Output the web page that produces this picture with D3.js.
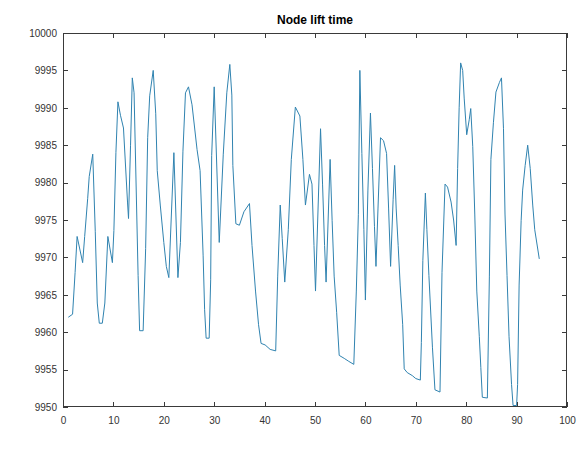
<!DOCTYPE html>
<html>
<head>
<meta charset="utf-8">
<script src="https://cdn.jsdelivr.net/npm/d3@7"></script>
<style>
  html, body { margin: 0; padding: 0; background: #fff; }
  svg { display: block; font-family: "Liberation Sans", Arial, Helvetica, sans-serif; }
</style>
</head>
<body>
<svg id="chart" width="582" height="458"></svg>
<script>
// Node lift time series (x = position along the node sequence, y = lift time)
const xVals = [
  1.05, 1.9, 2.4, 2.8, 3.9, 4.3, 4.9, 5.2, 5.9, 6.4, 6.8, 7.2, 7.8, 8.3, 8.9, 9.8,
  10.1, 10.5, 10.9, 11.4, 12.0, 12.8, 13.0, 13.4, 13.75, 14.1, 14.9, 15.2, 15.9, 16.4,
  16.8, 17.2, 17.9, 18.4, 18.7, 19.3, 20.0, 20.5, 21.0, 22.0, 22.8, 23.3, 23.8, 24.3,
  24.9, 25.6, 26.6, 27.2, 27.8, 28.1, 28.4, 29.0, 29.3, 29.5, 30.0, 31.0, 31.8, 32.5,
  33.1, 33.5, 33.7, 34.3, 35.0, 35.9, 37.0, 37.5, 38.2, 38.8, 39.3, 40.1, 41.1, 42.2,
  42.6, 43.1, 43.5, 44.0, 44.7, 45.3, 46.1, 47.0, 47.6, 48.1, 48.9, 49.4, 49.8, 50.1,
  51.1, 51.5, 51.9, 52.2, 53.0, 53.4, 53.8, 54.3, 54.8, 55.8, 56.7, 57.7, 58.2, 58.6,
  58.9, 59.3, 59.7, 60.0, 60.5, 61.0, 61.4, 61.8, 62.1, 62.5, 63.0, 63.6, 64.2, 64.6,
  65.0, 65.5, 65.8, 66.1, 66.5, 66.9, 67.4, 67.7, 68.3, 69.3, 70.0, 70.9, 71.1, 71.4,
  71.9, 72.2, 72.6, 73.3, 73.8, 74.8, 75.2, 75.8, 76.3, 77.0, 77.5, 78.0, 78.3, 78.6,
  78.9, 79.3, 79.6, 80.1, 80.6, 80.9, 81.3, 81.7, 82.1, 82.6, 82.9, 83.2, 84.2, 84.6,
  84.9, 85.4, 85.9, 86.6, 87.0, 87.4, 87.7, 88.1, 88.5, 89.0, 89.3, 90.0, 90.2, 90.5,
  90.9, 91.2, 91.7, 92.2, 92.7, 93.2, 93.6, 94.5
];
const yVals = [
  9962.0, 9962.4, 9968.0, 9972.8, 9969.3, 9972.8, 9977.9, 9980.8, 9983.8, 9973.5, 9963.9, 9961.2, 9961.2, 9963.9, 9972.8, 9969.3,
  9973.6, 9984.0, 9990.8, 9989.0, 9987.3, 9977.4, 9975.2, 9985.0, 9994.0, 9992.0, 9967.6, 9960.2, 9960.2, 9971.2,
  9986.0, 9991.6, 9995.0, 9989.2, 9981.6, 9977.0, 9972.0, 9968.8, 9967.3, 9984.0, 9967.3, 9972.0, 9984.2, 9992.0,
  9992.8, 9990.4, 9984.4, 9981.6, 9970.3, 9963.0, 9959.2, 9959.2, 9967.0, 9983.6, 9992.8, 9972.0, 9983.8, 9992.0,
  9995.8, 9991.7, 9982.3, 9974.5, 9974.3, 9976.1, 9977.2, 9971.6, 9965.5, 9961.0, 9958.5, 9958.3, 9957.7, 9957.5,
  9967.5, 9977.0, 9972.5, 9966.7, 9973.7, 9983.1, 9990.1, 9988.9, 9983.1, 9977.0, 9981.1, 9979.8, 9971.6, 9965.5,
  9987.2, 9979.8, 9971.6, 9966.7, 9983.1, 9974.9, 9967.5, 9962.6, 9956.9, 9956.5, 9956.1, 9955.7, 9965.5, 9975.7,
  9995.0, 9983.9, 9973.7, 9964.3, 9979.0, 9989.3, 9981.9, 9974.1, 9968.8, 9976.6, 9986.0, 9985.6, 9983.9, 9976.6,
  9968.8, 9977.7, 9982.3, 9976.6, 9971.6, 9966.3, 9961.0, 9955.1, 9954.6, 9954.2, 9953.8, 9953.6, 9958.6, 9969.6,
  9978.6, 9973.7, 9967.6, 9958.0, 9952.3, 9952.0, 9968.0, 9979.8, 9979.4, 9977.4, 9975.0, 9971.6, 9981.9, 9990.0,
  9996.0, 9995.0, 9991.3, 9986.4, 9988.4, 9989.9, 9984.8, 9975.8, 9965.5, 9959.4, 9955.3, 9951.3, 9951.2, 9967.5,
  9983.1, 9988.0, 9992.1, 9993.4, 9994.0, 9987.2, 9975.8, 9967.6, 9959.4, 9953.0, 9950.2, 9950.2, 9953.0, 9966.3,
  9974.9, 9979.0, 9982.3, 9985.0, 9981.9, 9977.0, 9973.7, 9969.8
];
const xTicks = [0, 10, 20, 30, 40, 50, 60, 70, 80, 90, 100];
const yTicks = [9950, 9955, 9960, 9965, 9970, 9975, 9980, 9985, 9990, 9995, 10000];
const titleText = "Node lift time";

const margin = { top: 33, right: 15, bottom: 51, left: 63 };
const W = 582, H = 458;
const iw = W - margin.left - margin.right;
const ih = H - margin.top - margin.bottom;

const svg = d3.select("#chart");
const g = svg.append("g").attr("transform", `translate(${margin.left},${margin.top})`);

const x = d3.scaleLinear().domain([0, 100]).range([0, iw]);
const y = d3.scaleLinear().domain([9950, 10000]).range([ih, 0]);

const axisColor = "#3a3a3a";
const tickLen = 5;

svg.append("defs").append("clipPath").attr("id", "plotClip")
  .append("rect").attr("x", 0).attr("y", 0).attr("width", iw).attr("height", ih);

// series line
const pts = xVals.map((v, i) => [v, yVals[i]]);
g.append("path")
  .datum(pts)
  .attr("clip-path", "url(#plotClip)")
  .attr("fill", "none")
  .attr("stroke", "#3083b0")
  .attr("stroke-width", 1)
  .attr("stroke-linejoin", "round")
  .attr("d", d3.line().x(d => x(d[0])).y(d => y(d[1])));

function styleAxis(sel, labels) {
  sel.select(".domain").remove();
  sel.selectAll(".tick line").attr("stroke", axisColor).attr("stroke-width", 1).attr("shape-rendering", "crispEdges");
  if (labels) sel.selectAll(".tick text").attr("fill", "#333").attr("font-size", 10);
  else sel.selectAll(".tick text").remove();
}

// bottom & left with labels, top & right ticks only
g.append("g").attr("transform", `translate(0,${ih})`)
  .call(d3.axisBottom(x).tickValues(xTicks).tickFormat(d3.format("d")).tickSizeInner(-tickLen).tickSizeOuter(0).tickPadding(10))
  .call(s => styleAxis(s, true));
g.append("g")
  .call(d3.axisLeft(y).tickValues(yTicks).tickFormat(d3.format("d")).tickSizeInner(-tickLen).tickSizeOuter(0).tickPadding(6))
  .call(s => styleAxis(s, true));
g.append("g")
  .call(d3.axisTop(x).tickValues(xTicks).tickSizeInner(-tickLen).tickSizeOuter(0))
  .call(s => styleAxis(s, false));
g.append("g").attr("transform", `translate(${iw},0)`)
  .call(d3.axisRight(y).tickValues(yTicks).tickSizeInner(-tickLen).tickSizeOuter(0))
  .call(s => styleAxis(s, false));

// axes box
g.append("rect")
  .attr("x", 0.5).attr("y", 0.5).attr("width", iw - 1).attr("height", ih - 1)
  .attr("fill", "none").attr("stroke", axisColor).attr("stroke-width", 1)
  .attr("shape-rendering", "crispEdges");

// title
svg.append("text")
  .attr("x", margin.left + iw / 2)
  .attr("y", margin.top - 9)
  .attr("text-anchor", "middle")
  .attr("font-size", 12)
  .attr("font-weight", "bold")
  .attr("fill", "#000")
  .text(titleText);
</script>
</body>
</html>
